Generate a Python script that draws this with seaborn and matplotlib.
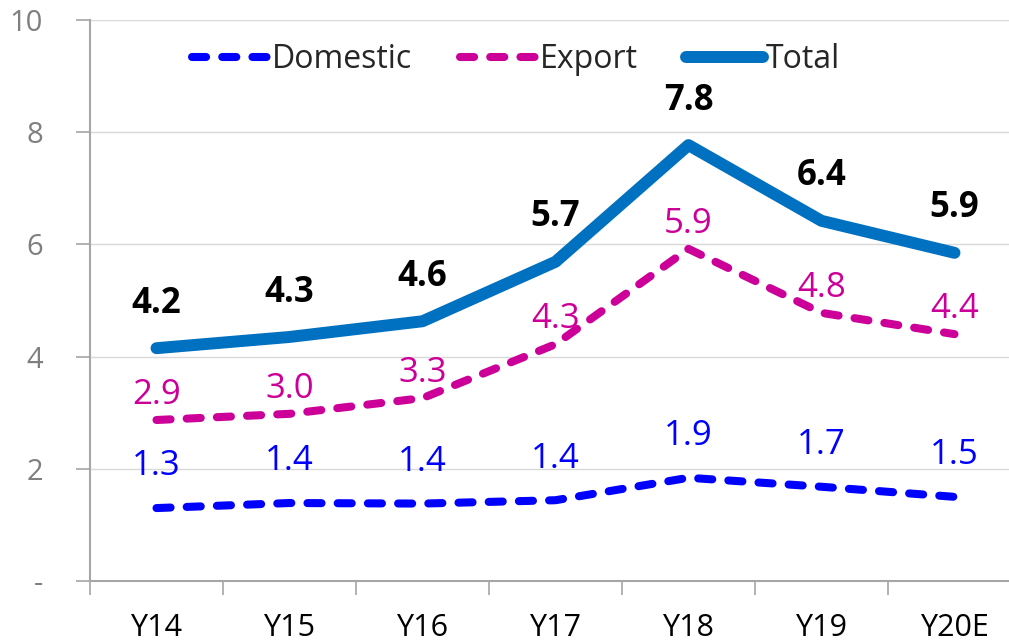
import pandas as pd
import seaborn as sns
import matplotlib.pyplot as plt
from matplotlib.ticker import FixedLocator

# Data
years = ['Y14', 'Y15', 'Y16', 'Y17', 'Y18', 'Y19', 'Y20E']
domestic = [1.30, 1.39, 1.38, 1.44, 1.84, 1.68, 1.50]
export = [2.87, 2.98, 3.26, 4.22, 5.92, 4.78, 4.40]
total = [4.15, 4.35, 4.63, 5.69, 7.77, 6.42, 5.85]
domestic_labels = ['1.3', '1.4', '1.4', '1.4', '1.9', '1.7', '1.5']
export_labels = ['2.9', '3.0', '3.3', '4.3', '5.9', '4.8', '4.4']
total_labels = ['4.2', '4.3', '4.6', '5.7', '7.8', '6.4', '5.9']
y_ticks = [0, 2, 4, 6, 8, 10]
y_tick_labels = ['-', '2', '4', '6', '8', '10']

sns.set_style('white')
plt.rcParams['font.family'] = ['Open Sans', 'DejaVu Sans']

df = pd.DataFrame({'year': years, 'Domestic': domestic, 'Export': export, 'Total': total})

fig = plt.figure(figsize=(10.09, 6.44), dpi=100)
ax = fig.add_axes([90 / 1009, 63 / 644, 931 / 1009, 561 / 644])

# series: (column, colour, width, dashed?, labels, label colour, weight, offset)
series = [
    ('Domestic', '#0000FF', 5.8, True, domestic_labels, '#0000FF', 'normal', 30),
    ('Export', '#CC0099', 5.8, True, export_labels, '#CC0099', 'normal', 18),
    ('Total', '#0070C0', 8.6, False, total_labels, 'black', 'bold', 32),
]

for name, color, lw, dashed, labels, lcolor, weight, off in series:
    kw = dict(solid_capstyle='round', dash_capstyle='round')
    if dashed:
        kw['dashes'] = (1.75, 2)
    sns.lineplot(data=df, x='year', y=name, ax=ax, color=color, linewidth=lw,
                 label=name, sort=False, **kw)
    for i, (v, t) in enumerate(zip(df[name], labels)):
        ax.annotate(t, (i, v), xytext=(0, off), textcoords='offset points',
                    ha='center', va='center', fontsize=25, color=lcolor,
                    fontweight=weight)

ax.set_xlim(-0.5, 6.5)
ax.set_ylim(0, 10)
ax.set_xlabel('')
ax.set_ylabel('')

# category axis: tick marks between categories, labels at centres
ax.xaxis.set_major_locator(FixedLocator([i - 0.5 for i in range(len(years) + 1)]))
ax.xaxis.set_minor_locator(FixedLocator(range(len(years))))
ax.set_xticklabels([], minor=False)
ax.set_xticklabels(years, minor=True)
ax.tick_params(axis='x', which='major', direction='out', length=10, width=1.2,
               color='#A6A6A6', bottom=True)
ax.tick_params(axis='x', which='minor', length=0, pad=23, labelsize=22, labelcolor='black')

ax.set_yticks(y_ticks)
ax.set_yticklabels(y_tick_labels)
ax.tick_params(axis='y', direction='out', length=10, width=1.2, color='#A6A6A6',
               pad=24, labelsize=21, labelcolor='#7F7F7F', left=True)

ax.yaxis.grid(True, color='#D9D9D9', linewidth=1)
ax.set_axisbelow(True)
for s in ['top', 'right']:
    ax.spines[s].set_visible(False)
for s in ['left', 'bottom']:
    ax.spines[s].set_color('#A6A6A6')
    ax.spines[s].set_linewidth(1.5)

ax.legend(loc='center', bbox_to_anchor=(0.458, 0.93), ncol=3, frameon=False,
          fontsize=23, handlelength=2.4, handletextpad=0.1, columnspacing=1.5,
          borderaxespad=0)

fig.savefig('out.png', dpi=100)
